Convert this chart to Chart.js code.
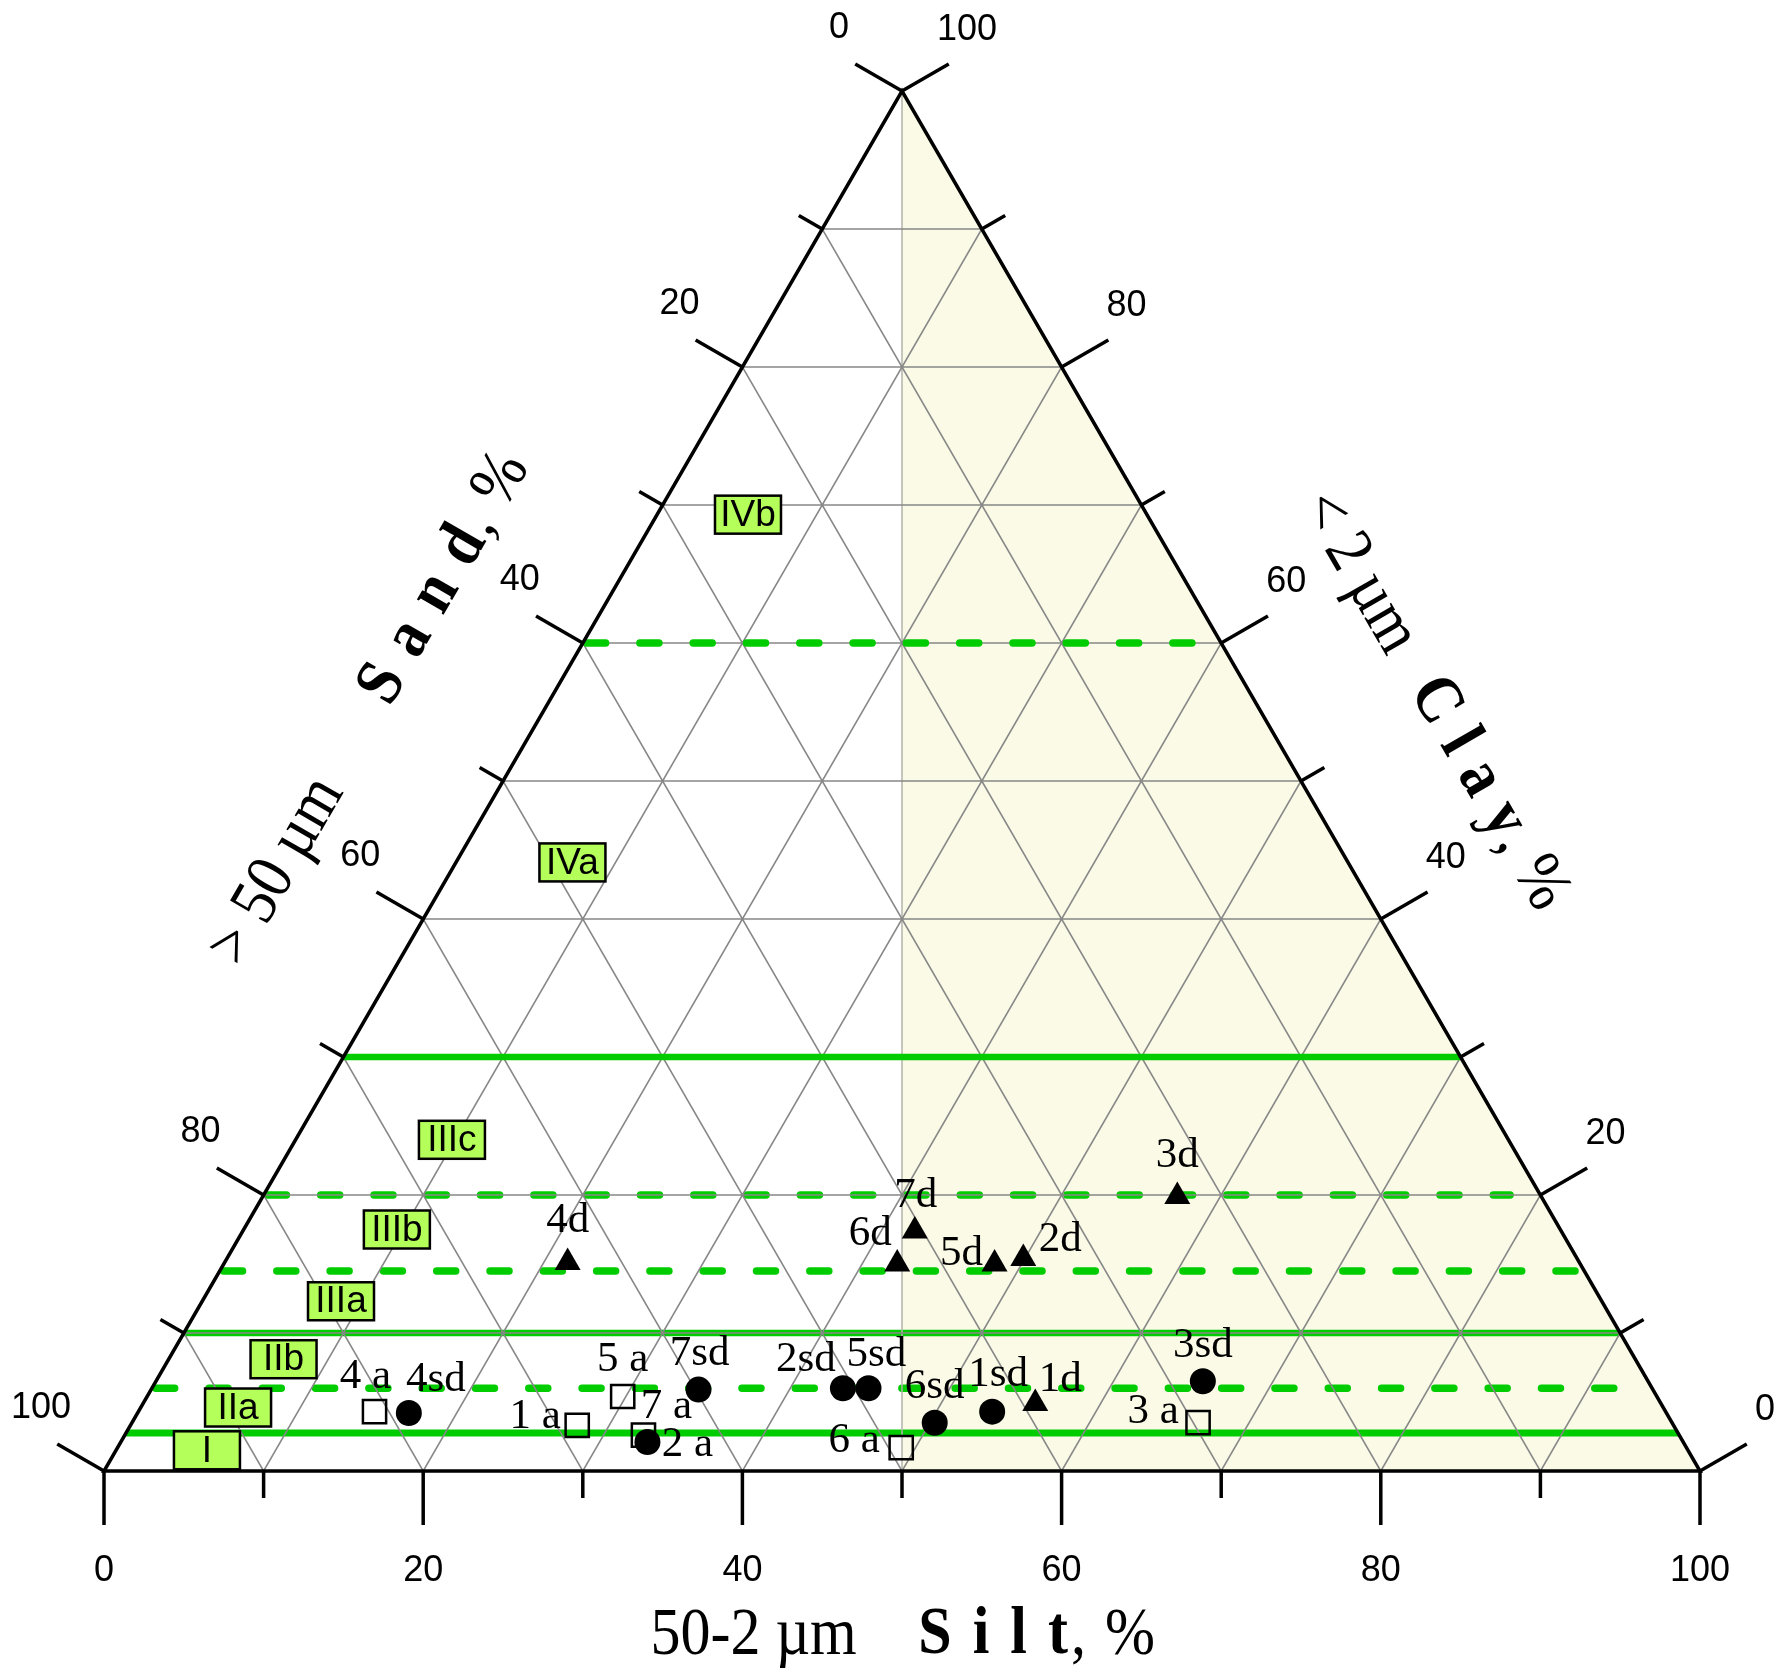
<!DOCTYPE html>
<html>
<head>
<meta charset="utf-8">
<title>Sand - Silt - Clay</title>
<script src="https://cdn.jsdelivr.net/npm/chart.js@4.4.1/dist/chart.umd.min.js"></script>
<style>
html, body { margin: 0; padding: 0; background: #fff; }
#wrap { position: relative; width: 1786px; height: 1679px; }
</style>
</head>
<body>
<div id="wrap"><canvas id="triChart"></canvas></div>
<script>
// samples 1..7, values are silt and clay in %, sand = 100 - silt - clay
const sampleNums = ['1', '2', '3', '4', '5', '6', '7'];

// "a" samples (open squares; 2 a is drawn as a dot in the source figure)
const aSilt = [28.0, 33.0, 66.8, 14.8, 29.8, 49.1, 32.5];
const aClay = [3.3, 2.1, 3.5, 4.3, 5.4, 1.7, 2.6];
const aMarker = ['rect', 'circle', 'rect', 'rect', 'rect', 'rect', 'rect'];

// "sd" samples (dots)
const sdSilt = [53.5, 43.3, 65.6, 17.0, 44.9, 50.3, 34.3];
const sdClay = [4.3, 6.0, 6.5, 4.2, 6.0, 3.5, 5.9];

// "d" samples (triangles)
const dSilt = [55.9, 49.9, 57.3, 21.5, 48.3, 42.2, 42.1];
const dClay = [4.9, 15.4, 19.9, 15.1, 15.0, 15.0, 17.4];

// class borders (clay %), dashed or not, and where they stop (silt %)
const borderClay = [2.75, 6, 10, 14.5, 20, 30, 60];
const borderDashed = [false, true, false, true, true, false, true];
const borderEndSilt = [97.25, 91.7, 90, 85.5, 78.1, 70, 38.4];

// class names and where their tag sits (silt %, clay %)
const classNames = ['I', 'IIa', 'IIb', 'IIIa', 'IIIb', 'IIIc', 'IVa', 'IVb'];
const classSilt = [5.7, 6.1, 7.2, 8.7, 9.6, 9.8, 7.3, 5.7];
const classClay = [1.5, 4.6, 8.1, 12.3, 17.5, 24.0, 44.1, 69.3];

const tickSteps = [0, 10, 20, 30, 40, 50, 60, 70, 80, 90, 100];
const tickValues = [0, 20, 40, 60, 80, 100];
const tickLabels = ['0', '20', '40', '60', '80', '100'];

// label nudges in px (dx, dy) per sample
const aShift = [[-42, -9], [40, 3], [-45, -11], [-9, -35], [0, -37], [-47, -7], [23, -28]];
const sdShift = [[6, -37], [-37, -28], [0, -36], [27, -33], [8, -33], [0, -36], [1, -36]];
const dShift = [[25, -24], [37, -19], [0, -41], [0, -42], [-33, -10], [-27, -30], [1, -35]];

const SERIF = '"Liberation Serif", "Times New Roman", serif';
const SANS = '"Liberation Sans", Arial, sans-serif';

// ternary (silt, clay) -> plane
function pt(silt, clay) {
    return { x: silt + clay / 2, y: clay };
}
function gap() {
    return { x: 0, y: null };
}

function gridData() {
    let pts = [];
    for (let v = 10; v < 100; v += 10) {
        pts.push(pt(0, v), pt(100 - v, v), gap());        // clay = v
        pts.push(pt(v, 0), pt(v, 100 - v), gap());        // silt = v
        pts.push(pt(100 - v, 0), pt(0, 100 - v), gap());  // sand = v
    }
    return pts;
}

let datasets = [];

// marker series
let aRectIdx = [], aDotIdx = [];
aMarker.forEach((m, i) => (m === 'rect' ? aRectIdx : aDotIdx).push(i));

datasets.push({
    label: 'sd', order: 0, showLine: false,
    data: sdSilt.map((s, i) => pt(s, sdClay[i])),
    ptLabels: sampleNums.map(n => n + 'sd'), ptShift: sdShift,
    pointStyle: 'circle', pointRadius: 13, backgroundColor: '#000', borderWidth: 0
});
datasets.push({
    label: 'd', order: 0, showLine: false,
    data: dSilt.map((s, i) => pt(s, dClay[i])),
    ptLabels: sampleNums.map(n => n + 'd'), ptShift: dShift,
    pointStyle: 'triangle', pointRadius: 15, backgroundColor: '#000', borderWidth: 0
});
datasets.push({
    label: 'a dot', order: 1, showLine: false,
    data: aDotIdx.map(i => pt(aSilt[i], aClay[i])),
    ptLabels: aDotIdx.map(i => sampleNums[i] + ' a'), ptShift: aDotIdx.map(i => aShift[i]),
    pointStyle: 'circle', pointRadius: 13, backgroundColor: '#000', borderWidth: 0
});
datasets.push({
    label: 'a', order: 2, showLine: false,
    data: aRectIdx.map(i => pt(aSilt[i], aClay[i])),
    ptLabels: aRectIdx.map(i => sampleNums[i] + ' a'), ptShift: aRectIdx.map(i => aShift[i]),
    pointStyle: 'rect', pointRadius: 16.4, backgroundColor: 'rgba(0,0,0,0)',
    borderColor: '#000', borderWidth: 2.5
});

// triangle frame
datasets.push({
    order: 20, data: [pt(0, 0), pt(100, 0), pt(0, 100), pt(0, 0), pt(100, 0)],
    borderColor: '#000', borderWidth: 3.5, borderJoinStyle: 'miter', pointRadius: 0
});
// grid
datasets.push({
    order: 30, data: gridData(), borderColor: '#888', borderWidth: 1.5, pointRadius: 0
});
// silt = sand divider
datasets.push({
    order: 31, data: [pt(0, 100), pt(50, 0)], borderColor: '#b4b4aa', borderWidth: 1.5, pointRadius: 0
});
// class borders (the upper ones sit over the grid, the lower ones under it)
borderClay.forEach((c, i) => {
    datasets.push({
        order: c >= 30 ? 25 : 40, data: [pt(0, c), pt(borderEndSilt[i], c)],
        borderColor: '#00cc00', borderWidth: borderDashed[i] ? 7.5 : (i === 0 ? 7 : 6.5),
        borderDash: borderDashed[i] ? [19, 34.3] : [],
        borderDashOffset: -3.8,
        borderCapStyle: borderDashed[i] ? 'round' : 'butt', pointRadius: 0
    });
});
// shaded part, silt > sand
datasets.push({
    order: 50, data: [pt(0, 100), pt(100, 0)], fill: 'origin',
    backgroundColor: '#fafae6', borderWidth: 0, pointRadius: 0
});

datasets.forEach(ds => { ds.clip = false; ds.pointHitRadius = 0; });

// text runs, each with its own font and extra spacing between letters
function drawRuns(ctx, runs, cx, cy, angle) {
    ctx.save();
    ctx.translate(cx, cy);
    ctx.rotate(angle);
    ctx.scale(1, 1.12);
    ctx.textAlign = 'left';
    ctx.textBaseline = 'middle';
    let total = 0;
    runs.forEach(r => {
        ctx.font = r.font;
        r.chars = [...r.text];
        r.ws = r.chars.map(ch => ctx.measureText(ch).width + (r.gap || 0));
        r.w = r.ws.reduce((a, b) => a + b, 0);
        total += r.w;
    });
    let x = -total / 2;
    runs.forEach(r => {
        ctx.font = r.font;
        r.chars.forEach((ch, k) => { ctx.fillText(ch, x, 0); x += r.ws[k]; });
    });
    ctx.restore();
}

const ternaryDeco = {
    id: 'ternaryDeco',
    afterDatasetsDraw(chart) {
        const ctx = chart.ctx;
        const xs = chart.scales.x, ys = chart.scales.y;
        const at = (silt, clay) => ({ x: xs.getPixelForValue(silt + clay / 2), y: ys.getPixelForValue(clay) });
        const c30 = Math.cos(Math.PI / 6), s30 = 0.5;
        ctx.save();

        // ticks
        ctx.strokeStyle = '#000';
        ctx.lineWidth = 3.5;
        ctx.lineCap = 'butt';
        tickSteps.forEach(v => {
            const len = v % 20 === 0 ? 54 : 27;
            let p = at(v, 0);
            ctx.beginPath(); ctx.moveTo(p.x, p.y); ctx.lineTo(p.x, p.y + len); ctx.stroke();
            p = at(0, 100 - v);
            ctx.beginPath(); ctx.moveTo(p.x, p.y); ctx.lineTo(p.x - c30 * len, p.y - s30 * len); ctx.stroke();
            p = at(100 - v, v);
            ctx.beginPath(); ctx.moveTo(p.x, p.y); ctx.lineTo(p.x + c30 * len, p.y - s30 * len); ctx.stroke();
        });

        // tick labels
        ctx.fillStyle = '#000';
        ctx.font = '36px ' + SANS;
        ctx.textAlign = 'center';
        ctx.textBaseline = 'middle';
        tickValues.forEach((v, i) => {
            let p = at(v, 0);
            ctx.fillText(tickLabels[i], p.x, p.y + 100);
            p = at(0, 100 - v);
            ctx.fillText(tickLabels[i], p.x - 63, p.y - 63);
            p = at(100 - v, v);
            ctx.fillText(tickLabels[i], p.x + 65, p.y - 61);
        });

        // axis titles
        const fN = '60px ' + SERIF, fB = 'bold 60px ' + SERIF;
        const bl = at(0, 0), apex = at(0, 100), br = at(100, 0);
        const L = Math.hypot(apex.x - bl.x, apex.y - bl.y);
        const ux = (apex.x - bl.x) / L, uy = (apex.y - bl.y) / L;
        const vx = (br.x - apex.x) / L, vy = (br.y - apex.y) / L;
        const leftAt = (f, off) => [bl.x + ux * f * L + uy * off, bl.y + uy * f * L - ux * off];
        const rightAt = (f, off) => [apex.x + vx * f * L + vy * off, apex.y + vy * f * L - vx * off];

        drawRuns(ctx, [{ text: '50-2 \u00b5m', font: fN }], xs.getPixelForValue(40.7), bl.y + 165, 0);
        drawRuns(ctx, [{ text: 'S i l t', font: fB, gap: 3 }, { text: ', %', font: fN, gap: 2 }],
            xs.getPixelForValue(58.5), bl.y + 165, 0);

        let q = leftAt(0.38, 150);
        drawRuns(ctx, [{ text: '> 50 \u00b5m', font: fN }], q[0], q[1], Math.atan2(uy, ux));
        q = leftAt(0.592, 152);
        drawRuns(ctx, [{ text: 'S a n d', font: fB, gap: 3 }, { text: ', %', font: fN, gap: 1 }],
            q[0], q[1], Math.atan2(uy, ux));

        q = rightAt(0.405, 154);
        drawRuns(ctx, [{ text: '< 2 \u00b5m', font: fN }], q[0], q[1], Math.atan2(vy, vx));
        q = rightAt(0.566, 156);
        drawRuns(ctx, [{ text: 'C l a y', font: fB, gap: 1.5 }, { text: ', %', font: fN, gap: 1 }],
            q[0], q[1], Math.atan2(vy, vx));

        // class tags
        ctx.font = '37px ' + SANS;
        ctx.textAlign = 'center';
        ctx.textBaseline = 'middle';
        ctx.lineWidth = 2.5;
        classNames.forEach((name, i) => {
            const p = at(classSilt[i], classClay[i]);
            ctx.fillStyle = '#b4ff5a';
            ctx.fillRect(p.x - 33, p.y - 19, 66, 38);
            ctx.strokeRect(p.x - 33, p.y - 19, 66, 38);
            ctx.fillStyle = '#000';
            ctx.fillText(name, p.x, p.y + 1);
        });

        // sample labels
        ctx.font = '43px ' + SERIF;
        chart.data.datasets.forEach((ds, di) => {
            if (!ds.ptLabels) return;
            const meta = chart.getDatasetMeta(di);
            meta.data.forEach((el, j) => {
                const s = ds.ptShift[j];
                ctx.fillText(ds.ptLabels[j], el.x + s[0], el.y + s[1]);
            });
        });

        ctx.restore();
    }
};

new Chart(document.getElementById('triChart'), {
    type: 'line',
    data: { datasets: datasets },
    options: {
        responsive: true,
        maintainAspectRatio: false,
        animation: false,
        events: [],
        layout: { padding: { left: 104, right: 86, top: 91, bottom: 208 } },
        scales: {
            x: { type: 'linear', min: 0, max: 100, display: false },
            y: { type: 'linear', min: 0, max: 100, display: false }
        },
        plugins: {
            legend: { display: false },
            tooltip: { enabled: false }
        }
    },
    plugins: [ternaryDeco]
});
</script>
</body>
</html>
